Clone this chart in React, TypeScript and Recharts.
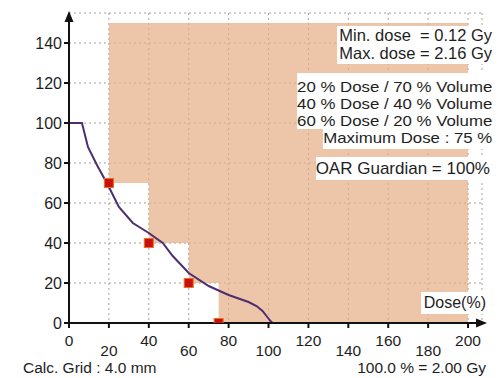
import React from 'react';
import {
  ComposedChart, Line, Scatter, Area, XAxis, YAxis, CartesianGrid
} from 'recharts';

// DVH curve (dose % / volume %)
const dvhDose = [0, 6.5, 9.5, 14, 19.5, 25, 32, 40, 47, 52, 60, 70, 80, 90, 94, 97, 99, 101, 102];
const dvhVolume = [100, 100, 88, 79, 69, 58, 50, 45, 40, 33.5, 25, 18.5, 14, 10.5, 8.5, 6, 3.5, 1, 0];

// constraint points (red squares)
const constraintDose = [20, 40, 60, 75];
const constraintVolume = [70, 40, 20, 0];

// forbidden region: steps from each constraint up to the top, until the dose limit
const regionTop = 150;
const regionDoseEnd = 200;

const xTicks = [0, 20, 40, 60, 80, 100, 120, 140, 160, 180, 200];
const yTicks = [0, 20, 40, 60, 80, 100, 120, 140];

const infoTop = ['Min. dose  = 0.12 Gy', 'Max. dose = 2.16 Gy'];
const infoConstraints = [
  '20 % Dose / 70 % Volume',
  '40 % Dose / 40 % Volume',
  '60 % Dose / 20 % Volume',
  'Maximum Dose : 75 %',
];
const infoGuardian = 'OAR Guardian = 100%';

const dvhData = dvhDose.map((d, i) => ({ dose: d, vol: dvhVolume[i] }));
const markerData = constraintDose.map((d, i) => ({ dose: d, vol: constraintVolume[i] }));
const regionData = [
  ...constraintDose.map((d, i) => ({ dose: d, range: [constraintVolume[i], regionTop] })),
  { dose: regionDoseEnd, range: [constraintVolume[constraintVolume.length - 1], regionTop] },
];

const FONT = '"Liberation Sans", Arial, sans-serif';
const TEXT = '#1e1e1e';

const XTick = (props: any) => {
  const { x, y, payload } = props;
  const lower = (payload.value / 20) % 2 === 1;
  return (
    <text x={x} y={y} dy={lower ? 20 : 10} textAnchor="middle" dominantBaseline="central"
      fontSize={15.5} fill={TEXT} fontFamily={FONT}>
      {payload.value}
    </text>
  );
};

const YTick = (props: any) => {
  const { x, y, payload } = props;
  return (
    <text x={x} y={y} textAnchor="end" dominantBaseline="central"
      fontSize={16} fill={TEXT} fontFamily={FONT}>
      {payload.value}
    </text>
  );
};

const Square = (props: any) => {
  const { cx, cy } = props;
  return <rect x={cx - 4.5} y={cy - 4.5} width={9} height={9} fill="#c81010" stroke="#e8701c" strokeWidth={1} />;
};

const lineStyle: React.CSSProperties = {
  background: 'white',
  width: 'fit-content',
  marginLeft: 'auto',
  whiteSpace: 'pre',
};

export default function App() {
  return (
    <div style={{ position: 'absolute', left: 0, top: 0, width: 502, height: 378, background: 'white', fontFamily: FONT }}>
      <ComposedChart width={502} height={378} margin={{ top: 13, right: 20, left: 0, bottom: 0 }}>
        <CartesianGrid stroke="#6e625a" strokeOpacity={0.6} strokeDasharray="2 3" />
        <Area data={regionData} dataKey="range" type="stepAfter" stroke="none"
          fill="#e5ac83" fillOpacity={0.7} isAnimationActive={false} />
        <XAxis type="number" dataKey="dose" domain={[0, 207]} ticks={xTicks} height={55}
          axisLine={{ stroke: '#111', strokeWidth: 2 }} tickLine={{ stroke: '#111', strokeWidth: 2 }}
          tickSize={5} tick={<XTick />} allowDataOverflow />
        <YAxis type="number" domain={[0, 155]} ticks={yTicks} width={69}
          axisLine={{ stroke: '#111', strokeWidth: 2 }} tickLine={{ stroke: '#111', strokeWidth: 2 }}
          tickSize={5} tick={<YTick />} allowDataOverflow />
        <Line data={dvhData} dataKey="vol" type="linear" stroke="#4e2e6e" strokeWidth={2}
          dot={false} isAnimationActive={false} />
        <Scatter data={markerData} dataKey="vol" shape={<Square />} isAnimationActive={false} />
      </ComposedChart>

      <svg width={502} height={378} style={{ position: 'absolute', left: 0, top: 0, pointerEvents: 'none' }}>
        <polygon points="69,11 64.5,22 73.5,22" fill="#111" />
        <polygon points="487,323 476,318.5 476,327.5" fill="#111" />
        <text x={23} y={367} dominantBaseline="central" fontSize={15.5} fill={TEXT} fontFamily={FONT}>
          Calc. Grid : 4.0 mm
        </text>
        <text x={486} y={367} textAnchor="end" dominantBaseline="central" fontSize={15.5} fill={TEXT} fontFamily={FONT}>
          100.0 % = 2.00 Gy
        </text>
      </svg>

      <div style={{ position: 'absolute', right: 10, top: 26, fontSize: 16.5, lineHeight: '18px', color: TEXT }}>
        {infoTop.map((t, i) => (
          <div key={t} style={{ ...lineStyle, paddingLeft: 2, paddingBottom: i === 1 ? 2 : 0 }}>{t}</div>
        ))}
      </div>
      <div style={{
        position: 'absolute', right: 10, top: 73, fontSize: 15, lineHeight: '17px', color: TEXT,
        transform: 'scaleX(1.12)', transformOrigin: 'right top',
      }}>
        {infoConstraints.map((t, i) => (
          <div key={t} style={{
            ...lineStyle,
            paddingTop: i === 0 ? 5 : 0,
            paddingBottom: i === infoConstraints.length - 1 ? 3 : 0,
          }}>{t}</div>
        ))}
      </div>
      <div style={{ position: 'absolute', right: 12, top: 157, fontSize: 17, lineHeight: '17px', color: TEXT }}>
        <div style={{ ...lineStyle, paddingTop: 3, paddingBottom: 3 }}>{infoGuardian}</div>
      </div>
      <div style={{ position: 'absolute', right: 14, top: 292, fontSize: 16, lineHeight: '22px', color: TEXT }}>
        <div style={{ ...lineStyle, paddingLeft: 3, paddingRight: 2 }}>Dose(%)</div>
      </div>
    </div>
  );
}
